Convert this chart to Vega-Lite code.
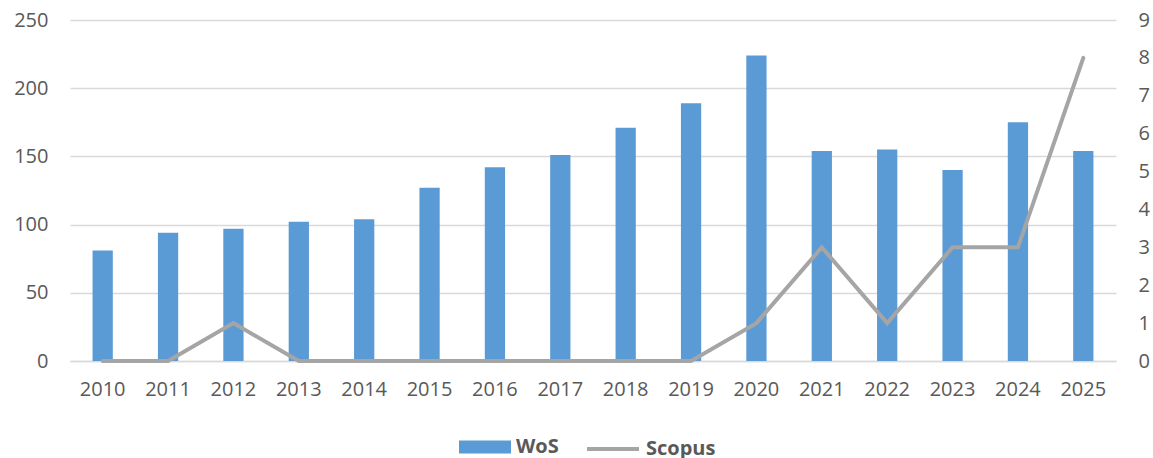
{
  "$schema": "https://vega.github.io/schema/vega-lite/v6.json",
  "width": 1046,
  "height": 341,
  "autosize": {"type": "none"},
  "padding": {"left": 70, "top": 20, "right": 37, "bottom": 97},
  "background": "white",
  "config": {
    "view": {"stroke": null},
    "font": "Open Sans",
    "axis": {"labelFont": "Open Sans", "labelFontSize": 20, "labelColor": "#595959"}
  },
  "data": {
    "values": [
      {"year": "2010", "wos": 81, "scopus": 0},
      {"year": "2011", "wos": 94, "scopus": 0},
      {"year": "2012", "wos": 97, "scopus": 1},
      {"year": "2013", "wos": 102, "scopus": 0},
      {"year": "2014", "wos": 104, "scopus": 0},
      {"year": "2015", "wos": 127, "scopus": 0},
      {"year": "2016", "wos": 142, "scopus": 0},
      {"year": "2017", "wos": 151, "scopus": 0},
      {"year": "2018", "wos": 171, "scopus": 0},
      {"year": "2019", "wos": 189, "scopus": 0},
      {"year": "2020", "wos": 224, "scopus": 1},
      {"year": "2021", "wos": 154, "scopus": 3},
      {"year": "2022", "wos": 155, "scopus": 1},
      {"year": "2023", "wos": 140, "scopus": 3},
      {"year": "2024", "wos": 175, "scopus": 3},
      {"year": "2025", "wos": 154, "scopus": 8}
    ]
  },
  "encoding": {
    "x": {
      "field": "year", "type": "nominal",
      "scale": {"paddingInner": 0.69, "paddingOuter": 0.345},
      "axis": {"title": null, "labelAngle": 0, "ticks": false, "domain": true, "domainColor": "#D9D9D9", "domainWidth": 1.5, "labelPadding": 18}
    }
  },
  "layer": [
    {
      "mark": {"type": "bar", "color": "#5B9BD5"},
      "encoding": {
        "y": {
          "field": "wos", "type": "quantitative",
          "scale": {"domain": [0, 250], "nice": false},
          "axis": {"title": null, "values": [0, 50, 100, 150, 200, 250], "ticks": false, "domain": false, "grid": true, "gridColor": "#D9D9D9", "gridWidth": 1.5, "labelPadding": 22}
        },
        "fill": {
          "datum": "WoS",
          "scale": {"domain": ["WoS"], "range": ["#5B9BD5"]},
          "legend": {
            "title": null, "orient": "none", "legendX": 402, "legendY": 414,
            "symbolType": "M-2,-0.5H2V0.5H-2Z", "symbolSize": 676, "symbolStrokeWidth": 0,
            "labelFontSize": 20, "labelFontWeight": "bold", "labelColor": "#595959", "labelFont": "Open Sans", "labelOffset": 18
          }
        }
      }
    },
    {
      "mark": {"type": "line", "color": "#A5A5A5", "strokeWidth": 4, "strokeCap": "round", "strokeJoin": "miter"},
      "encoding": {
        "y": {
          "field": "scopus", "type": "quantitative",
          "scale": {"domain": [0, 9], "nice": false},
          "axis": {"title": null, "orient": "right", "values": [0, 1, 2, 3, 4, 5, 6, 7, 8, 9], "ticks": false, "domain": false, "grid": false, "labelPadding": 22}
        },
        "stroke": {
          "datum": "Scopus",
          "scale": {"domain": ["Scopus"], "range": ["#A5A5A5"]},
          "legend": {
            "title": null, "orient": "none", "legendX": 528, "legendY": 414,
            "symbolType": "M-2,0H2", "symbolSize": 676, "symbolStrokeWidth": 4, "symbolFillColor": "transparent",
            "labelFontSize": 20, "labelFontWeight": "bold", "labelColor": "#595959", "labelFont": "Open Sans", "labelOffset": 18
          }
        }
      }
    }
  ],
  "resolve": {"scale": {"y": "independent", "fill": "independent", "stroke": "independent"}}
}
